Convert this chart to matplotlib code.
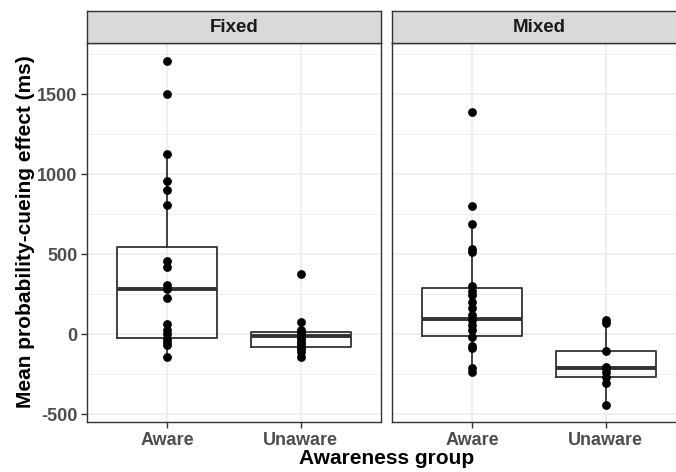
import matplotlib.pyplot as plt

plt.rcParams['font.family'] = ['Liberation Sans', 'DejaVu Sans']
plt.rcParams['axes.unicode_minus'] = False

panels = ["Fixed", "Mixed"]
groups = ["Aware", "Unaware"]

# individual participant effects (ms)
fixed_aware = [1708, 1502, 1123, 954, 902, 808, 456, 421, 306, 281, 227,
               60, 25, -2, -31, -50, -69, -142]
fixed_unaware = [373, 77, 25, 15, 0, -17, -30, -48, -60, -79, -95, -110, -142]
mixed_aware = [1385, 798, 686, 530, 515, 300, 270, 244, 202, 160, 119, 88,
               56, 25, -17, -75, -90, -215, -235]
mixed_unaware = [88, 71, -106, -204, -215, -235, -267, -308, -444]

# box statistics: q1, median, q3, whisker low, whisker high
fixed_box = [(-23, 279, 542, -142, 1123), (-79, -12, 15, -142, 77)]
mixed_box = [(-12, 94, 290, -235, 686), (-267, -215, -104, -444, 88)]

data = {"Fixed": [fixed_aware, fixed_unaware], "Mixed": [mixed_aware, mixed_unaware]}
boxes = {"Fixed": fixed_box, "Mixed": mixed_box}

W, H = 676, 472
fig = plt.figure(figsize=(W / 100, H / 100), dpi=100)

lefts = [87, 392]
pw = 294
top, bottom = 43, 422
grey20 = "#333333"

for i, p in enumerate(panels):
    ax = fig.add_axes([lefts[i] / W, (H - bottom) / H, pw / W, (bottom - top) / H])

    stats = []
    for q1, med, q3, lo, hi in boxes[p]:
        stats.append(dict(q1=q1, med=med, q3=q3, whislo=lo, whishi=hi, fliers=[]))
    ax.bxp(stats, positions=[1, 2], widths=0.75, showcaps=False, manage_ticks=False,
           boxprops=dict(color=grey20, lw=1.3),
           whiskerprops=dict(color=grey20, lw=1.3),
           medianprops=dict(color=grey20, lw=2.8))
    for j, vals in enumerate(data[p]):
        ax.scatter([j + 1] * len(vals), vals, s=40, color="black", zorder=5,
                   linewidths=0)

    ax.set_xlim(0.4, 2.6)
    ax.set_ylim(-550, 1819)
    ax.set_yticks([-500, 0, 500, 1000, 1500])
    ax.set_yticks([-250, 250, 750, 1250, 1750], minor=True)
    ax.set_xticks([1, 2])
    ax.set_xticklabels(groups)
    ax.grid(True, which="major", color="#EBEBEB", lw=1.1)
    ax.grid(True, which="minor", axis="y", color="#EBEBEB", lw=0.6)
    ax.set_axisbelow(True)
    ax.tick_params(which="minor", length=0)
    ax.tick_params(which="major", length=4, width=1, color=grey20,
                   labelsize=13, labelcolor="#4D4D4D", pad=3)
    for lab in ax.get_xticklabels() + ax.get_yticklabels():
        lab.set_fontweight("bold")
    if i > 0:
        ax.tick_params(axis="y", left=False, labelleft=False)
    for s in ax.spines.values():
        s.set_color(grey20)
        s.set_linewidth(1)

    sax = fig.add_axes([lefts[i] / W, (H - top) / H, pw / W, 32 / H])
    sax.set_facecolor("#D9D9D9")
    sax.set_xticks([])
    sax.set_yticks([])
    for s in sax.spines.values():
        s.set_color(grey20)
        s.set_linewidth(1)
    sax.text(0.5, 0.5, p, ha="center", va="center", fontsize=13.5,
             fontweight="bold", color="#1A1A1A", transform=sax.transAxes)

fig.text(26 / W, 1 - 232 / H, "Mean probability-cueing effect (ms)", rotation=90,
         ha="center", va="center", fontsize=15, fontweight="bold")
fig.text(387 / W, 1 - 459 / H, "Awareness group", ha="center", va="center",
         fontsize=15, fontweight="bold")

fig.savefig("out.png", dpi=100)
